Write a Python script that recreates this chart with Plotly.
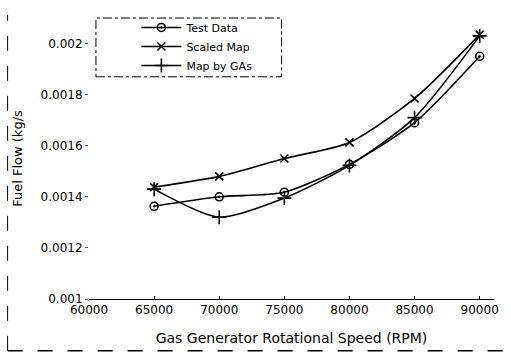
import plotly.graph_objects as go

rpm = [65000, 70000, 75000, 80000, 85000, 90000]
test_data = [0.001363, 0.001400, 0.001418, 0.001527, 0.001690, 0.001950]
scaled_map = [0.001438, 0.001480, 0.001550, 0.001613, 0.001785, 0.002035]
map_by_gas = [0.001430, 0.001320, 0.001395, 0.001523, 0.001710, 0.002030]

x_ticks = [60000, 65000, 70000, 75000, 80000, 85000, 90000]
y_ticks = [0.001, 0.0012, 0.0014, 0.0016, 0.0018, 0.002]
y_tick_labels = ["0.001", "0.0012", "0.0014", "0.0016", "0.0018", "0.002"]

FONT = "DejaVu Sans, sans-serif"

fig = go.Figure()
series = [
    ("Test Data", test_data, "circle-open-dot", 8),
    ("Scaled Map", scaled_map, "x-thin-open", 8),
    ("Map by GAs", map_by_gas, "cross-thin-open", 10),
]
for name, ys, sym, sz in series:
    fig.add_trace(go.Scatter(
        x=rpm, y=ys, name=name, mode="lines+markers",
        line=dict(color="black", width=1.6, shape="spline", smoothing=0.7),
        marker=dict(symbol=sym, size=sz, color="black",
                    line=dict(color="black", width=1.6)),
    ))

fig.update_layout(
    width=511, height=355,
    margin=dict(l=89, r=14, t=18, b=55),
    paper_bgcolor="white", plot_bgcolor="white",
    font=dict(family=FONT, size=11, color="black"),
    showlegend=True,
    legend=dict(x=0.117, y=1.018, xanchor="left", yanchor="top",
                bgcolor="rgba(0,0,0,0)", borderwidth=0,
                font=dict(family=FONT, size=11), tracegroupgap=0,
                itemwidth=40),
    xaxis=dict(range=[60000, 91100], tickvals=x_ticks,
               ticktext=[str(v) for v in x_ticks],
               showgrid=False, zeroline=False,
               showline=True, linecolor="black", linewidth=1,
               ticks="inside", ticklen=3, tickcolor="black",
               tickfont=dict(size=12),
               title=dict(text="Gas Generator Rotational Speed (RPM)",
                          font=dict(size=14), standoff=16)),
    yaxis=dict(range=[0.001, 0.0021], tickvals=y_ticks,
               ticktext=y_tick_labels,
               showgrid=False, zeroline=False, showline=False,
               ticks="outside", ticklen=3, tickcolor="#555",
               tickfont=dict(size=12),
               title=dict(text="Fuel Flow (kg/s", font=dict(size=13),
                          standoff=15)),
)

# dashed legend frame
fig.add_shape(type="rect", xref="paper", yref="paper",
              x0=(96 - 89) / 408, x1=(283 - 89) / 408,
              y0=(300 - 77) / 282, y1=(300 - 18) / 282,
              line=dict(color="black", width=1, dash="dashdot"))
# scanned page frame (left and bottom edges)
fig.add_shape(type="line", xref="paper", yref="paper",
              x0=(7 - 89) / 408, x1=(7 - 89) / 408,
              y0=(300 - 352) / 282, y1=(300 - 15) / 282,
              line=dict(color="black", width=1, dash="longdash"))
fig.add_shape(type="line", xref="paper", yref="paper",
              x0=(7 - 89) / 408, x1=(511 - 89) / 408,
              y0=(300 - 352) / 282, y1=(300 - 352) / 282,
              line=dict(color="black", width=1.5, dash="longdash"))

fig.write_html("out.html")
